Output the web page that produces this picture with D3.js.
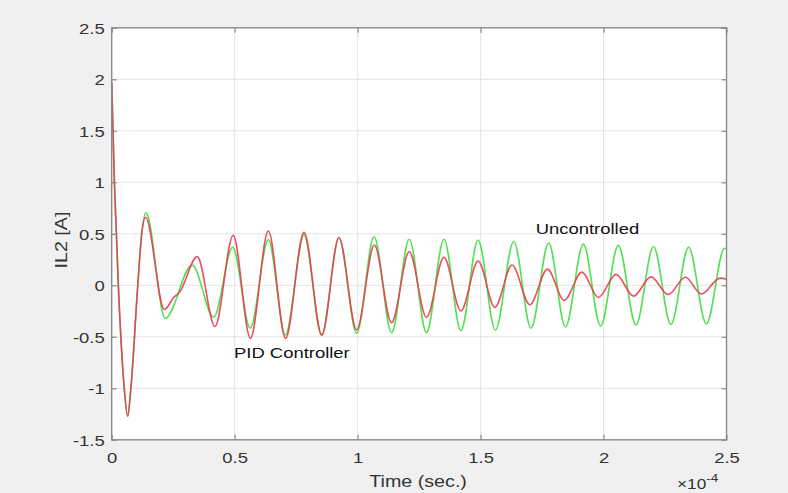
<!DOCTYPE html>
<html>
<head>
<meta charset="utf-8">
<script src="https://cdn.jsdelivr.net/npm/d3@7/dist/d3.min.js"></script>
<style>
  html, body { margin: 0; padding: 0; background: #f0f0f0; }
  svg { display: block; }
</style>
</head>
<body>
<svg id="chart" width="788" height="493"></svg>
<script>
// Inductor current IL2 response, time in units of 1e-4 s
const timeTicks = [0, 0.5, 1, 1.5, 2, 2.5];
const currentTicks = [-1.5, -1, -0.5, 0, 0.5, 1, 1.5, 2, 2.5];

// PID-controlled response (turning points and steep-edge samples)
const pidTime = [0, 0.011, 0.027, 0.051, 0.065, 0.078, 0.106, 0.122, 0.138,
  0.214, 0.255, 0.275, 0.348, 0.42, 0.494, 0.564, 0.637, 0.707, 0.782, 0.854,
  0.924, 0.996, 1.068, 1.138, 1.21, 1.28, 1.351, 1.42, 1.49, 1.558, 1.628,
  1.70, 1.772, 1.84, 1.912, 1.979, 2.051, 2.122, 2.193, 2.263, 2.333, 2.398,
  2.474, 2.5];
const pidCurrent = [1.97, 1.0, 0.0, -1.0, -1.27, -1.0, 0.0, 0.5, 0.66,
  -0.235, -0.11, -0.07, 0.278, -0.40, 0.485, -0.515, 0.527, -0.515, 0.514, -0.483,
  0.462, -0.434, 0.391, -0.363, 0.326, -0.311, 0.272, -0.25, 0.236, -0.214, 0.197,
  -0.188, 0.157, -0.146, 0.128, -0.118, 0.106, -0.105, 0.082, -0.09, 0.078, -0.085,
  0.07, 0.06];

// Uncontrolled response
const uncTime = [0, 0.011, 0.027, 0.051, 0.065, 0.078, 0.106, 0.122, 0.139,
  0.218, 0.327, 0.415, 0.492, 0.563, 0.637, 0.706, 0.782, 0.854, 0.924, 0.996,
  1.067, 1.138, 1.21, 1.28, 1.351, 1.42, 1.49, 1.56, 1.635, 1.705, 1.777, 1.845,
  1.918, 1.988, 2.06, 2.132, 2.203, 2.274, 2.346, 2.418, 2.492, 2.5];
const uncCurrent = [1.97, 1.0, 0.0, -1.0, -1.27, -1.0, 0.0, 0.5, 0.705,
  -0.32, 0.197, -0.31, 0.37, -0.417, 0.443, -0.483, 0.49, -0.483, 0.462, -0.466,
  0.472, -0.46, 0.447, -0.46, 0.447, -0.44, 0.44, -0.434, 0.425, -0.417, 0.41, -0.405,
  0.40, -0.395, 0.388, -0.385, 0.377, -0.38, 0.37, -0.375, 0.36, 0.355];

const W = 788, H = 493;
const plot = { left: 111.7, right: 726.5, top: 27.8, bottom: 439.8 };
const axisColor = "#8a8a8a";
const gridColor = "#e4e4e4";
const textColor = "#333333";
const fontFamily = "'Liberation Sans', Arial, Helvetica, sans-serif";
const stretch = 1.23;

const svg = d3.select("#chart");

const x = d3.scaleLinear().domain([0, 2.5]).range([plot.left, plot.right]);
const y = d3.scaleLinear().domain([-1.5, 2.5]).range([plot.bottom, plot.top]);

// plot background
svg.append("rect")
  .attr("x", plot.left).attr("y", plot.top)
  .attr("width", plot.right - plot.left).attr("height", plot.bottom - plot.top)
  .attr("fill", "#ffffff");

// grid
const grid = svg.append("g").attr("stroke", gridColor).attr("stroke-width", 1);
grid.selectAll("line.v").data(timeTicks.slice(1, -1)).join("line")
  .attr("class", "v")
  .attr("x1", d => x(d)).attr("x2", d => x(d))
  .attr("y1", plot.top).attr("y2", plot.bottom);
grid.selectAll("line.h").data(currentTicks.slice(1, -1)).join("line")
  .attr("class", "h")
  .attr("x1", plot.left).attr("x2", plot.right)
  .attr("y1", d => y(d)).attr("y2", d => y(d));

// clip for curves
svg.append("clipPath").attr("id", "plotClip")
  .append("rect")
  .attr("x", plot.left).attr("y", plot.top)
  .attr("width", plot.right - plot.left).attr("height", plot.bottom - plot.top);

const line = d3.line()
  .x(d => x(d[0]))
  .y(d => y(d[1]))
  .curve(d3.curveMonotoneX);

const curves = svg.append("g").attr("clip-path", "url(#plotClip)");
curves.append("path")
  .datum(d3.zip(uncTime, uncCurrent))
  .attr("fill", "none")
  .attr("stroke", "#52e052")
  .attr("stroke-width", 1.6)
  .attr("stroke-linejoin", "round")
  .attr("d", line);
curves.append("path")
  .datum(d3.zip(pidTime, pidCurrent))
  .attr("fill", "none")
  .attr("stroke", "#ea3c50")
  .attr("stroke-width", 1.6)
  .attr("stroke-opacity", 0.9)
  .attr("stroke-linejoin", "round")
  .attr("d", line);

// text helper: slightly wide sans labels
function styleText(sel, size) {
  sel.attr("font-family", fontFamily)
    .attr("font-size", size)
    .attr("fill", textColor);
}

// axes with inward ticks
const yAxisG = svg.append("g")
  .attr("transform", `translate(${plot.left},0)`)
  .call(d3.axisLeft(y).tickValues(currentTicks).tickSize(-5).tickPadding(0)
    .tickFormat(d => String(d)));
const xAxisG = svg.append("g")
  .attr("transform", `translate(0,${plot.bottom})`)
  .call(d3.axisBottom(x).tickValues(timeTicks).tickSize(-5).tickPadding(0)
    .tickFormat(d => String(d)));
const yAxisR = svg.append("g")
  .attr("transform", `translate(${plot.right},0)`)
  .call(d3.axisRight(y).tickValues(currentTicks).tickSize(-5).tickFormat(""));
const xAxisT = svg.append("g")
  .attr("transform", `translate(0,${plot.top})`)
  .call(d3.axisTop(x).tickValues(timeTicks).tickSize(-5).tickFormat(""));

[yAxisG, xAxisG, yAxisR, xAxisT].forEach(g => {
  g.select(".domain").remove();
  g.selectAll(".tick line").attr("stroke", axisColor).attr("stroke-width", 1.2);
});

yAxisG.selectAll(".tick text")
  .attr("x", 0).attr("dy", null)
  .attr("text-anchor", "end")
  .attr("transform", `translate(-7,5.4) scale(${stretch},1)`)
  .call(styleText, 15);
xAxisG.selectAll(".tick text")
  .attr("y", 0).attr("dy", null)
  .attr("text-anchor", "middle")
  .attr("transform", `translate(0,23.4) scale(${stretch},1)`)
  .call(styleText, 15);

// axes box
svg.append("rect")
  .attr("x", plot.left).attr("y", plot.top)
  .attr("width", plot.right - plot.left).attr("height", plot.bottom - plot.top)
  .attr("fill", "none")
  .attr("stroke", axisColor)
  .attr("stroke-width", 1.4);

function addText(str, tx, ty, size, anchor, rot) {
  const t = svg.append("text")
    .attr("text-anchor", anchor)
    .attr("transform", `translate(${tx},${ty}) rotate(${rot || 0}) scale(${stretch},1)`)
    .text(str);
  styleText(t, size);
  return t;
}

// axis titles
addText("Time (sec.)", (plot.left + plot.right) / 2 - 1, 487, 16, "middle");
addText("IL2 [A]", 67, 240, 16, "middle", -90);

// exponent label
const expo = svg.append("text")
  .attr("transform", `translate(677,488.5) scale(${stretch},1)`);
styleText(expo, 14);
expo.append("tspan").text("\u00d710");
expo.append("tspan").attr("dy", -7).attr("font-size", 11).text("-4");

// curve annotations
addText("Uncontrolled", 535.7, 233.7, 15, "start").attr("fill", "#111");
addText("PID Controller", 234, 358, 15, "start").attr("fill", "#111");
</script>
</body>
</html>
